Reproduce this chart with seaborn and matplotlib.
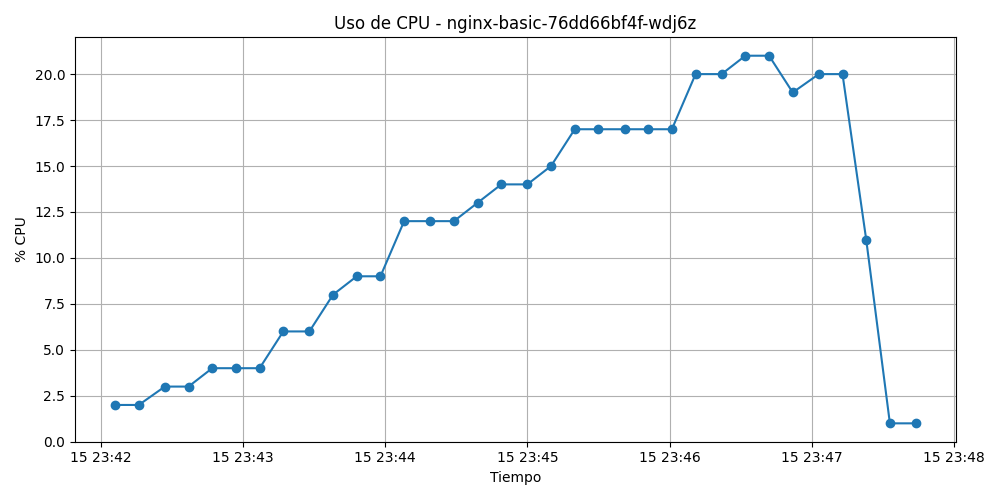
import pandas as pd
import seaborn as sns
import matplotlib
matplotlib.use("Agg")
import matplotlib.pyplot as plt

# segundos desde 23:42:00
segundos = [6, 16, 27, 37, 47, 57, 67, 77, 88, 98, 108, 118, 128, 139, 149, 159, 169,
            180, 190, 200, 210, 221, 231, 241, 251, 262, 272, 282, 292, 303, 313, 323, 333, 344]
cpu = [2, 2, 3, 3, 4, 4, 4, 6, 6, 8, 9, 9, 12, 12, 12, 13, 14,
       14, 15, 17, 17, 17, 17, 17, 20, 20, 21, 21, 19, 20, 20, 11, 1, 1]

inicio = pd.Timestamp("2024-05-15 23:42:00")
df = pd.DataFrame({"tiempo": [inicio + pd.Timedelta(seconds=s) for s in segundos], "cpu": cpu})

fig, ax = plt.subplots(figsize=(10, 5), dpi=100)
sns.lineplot(data=df, x="tiempo", y="cpu", marker="o", color="#1f77b4",
             markeredgecolor="#1f77b4", markeredgewidth=1, markersize=6, linewidth=1.5, ax=ax)
ax.set_title("Uso de CPU - nginx-basic-76dd66bf4f-wdj6z")
ax.set_xlabel("Tiempo")
ax.set_ylabel("% CPU")
ax.set_ylim(0, 22)
ax.grid(True)
plt.tight_layout()
fig.savefig("out.png")
